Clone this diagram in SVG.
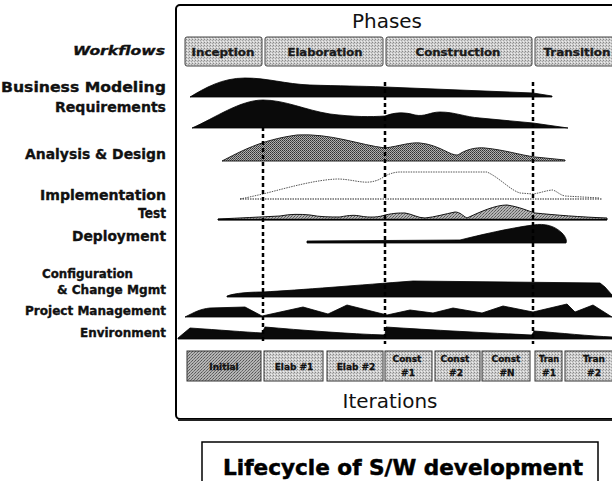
<svg xmlns="http://www.w3.org/2000/svg" width="612" height="481" viewBox="0 0 612 481">
<defs>
<pattern id="lite" width="3" height="3" patternUnits="userSpaceOnUse">
<rect width="3" height="3" fill="#cfcfcf"/><rect width="1" height="1" fill="#888"/><rect x="2" y="1" width="1" height="1" fill="#a4a4a4"/><rect x="1" y="2" width="1" height="1" fill="#eeeeee"/>
</pattern>
<pattern id="dark" width="3" height="3" patternUnits="userSpaceOnUse">
<rect width="3" height="3" fill="#b4b4b4"/><rect width="1" height="1" fill="#555"/><rect x="2" y="1" width="1" height="1" fill="#666"/><rect x="1" y="2" width="1" height="1" fill="#777"/>
</pattern>
<pattern id="mid" width="2" height="2" patternUnits="userSpaceOnUse">
<rect width="2" height="2" fill="#b0b0b0"/><rect width="1" height="1" fill="#303030"/><rect x="1" y="1" width="1" height="1" fill="#505050"/>
</pattern>
<style>
.lbl{font-family:"DejaVu Sans",Verdana,sans-serif;font-weight:bold;fill:#111;stroke:#111;stroke-width:0.35;text-anchor:end}
.ph{fill:url(#lite);stroke:#444;stroke-width:1}
.pht{font-family:"DejaVu Sans",Verdana,sans-serif;font-weight:bold;font-size:10px;fill:#1a1a1a;stroke:#1a1a1a;stroke-width:0.3;text-anchor:middle}
.it{fill:url(#lite);stroke:#333;stroke-width:1}
.itt{font-family:"DejaVu Sans",Verdana,sans-serif;font-weight:bold;font-size:9px;fill:#111;stroke:#111;stroke-width:0.3;text-anchor:middle}
.big{font-family:"DejaVu Sans",Verdana,sans-serif;font-size:20px;fill:#111;text-anchor:middle}
.blk{fill:#0a0a0a;stroke:#000;stroke-width:0.8}
.dash{stroke:#000;stroke-width:2.5;stroke-dasharray:4 3;fill:none}
</style>
</defs>
<rect width="612" height="481" fill="#fff"/>

<g id="frame">
<rect x="176" y="5" width="460" height="414" rx="4" fill="#fff" stroke="#000" stroke-width="2"/>
<line x1="178" y1="420" x2="612" y2="420" stroke="#222" stroke-width="2"/>
<text class="big" x="387" y="28" textLength="70" lengthAdjust="spacingAndGlyphs">Phases</text>
<text class="big" x="390" y="408" textLength="95" lengthAdjust="spacingAndGlyphs">Iterations</text>
</g>

<g id="phases">
<g id="ph-inception"><rect class="ph" x="185" y="37" width="77" height="29" rx="2"/><text class="pht" x="223" y="56" textLength="63" lengthAdjust="spacingAndGlyphs">Inception</text></g>
<g id="ph-elaboration"><rect class="ph" x="265" y="37" width="118" height="29" rx="2"/><text class="pht" x="325" y="56" textLength="75" lengthAdjust="spacingAndGlyphs">Elaboration</text></g>
<g id="ph-construction"><rect class="ph" x="386" y="37" width="146" height="29" rx="2"/><text class="pht" x="458" y="56" textLength="85" lengthAdjust="spacingAndGlyphs">Construction</text></g>
<g id="ph-transition"><rect class="ph" x="535" y="37" width="82" height="29" rx="2"/><text class="pht" x="577" y="56" textLength="67" lengthAdjust="spacingAndGlyphs">Transition</text></g>
</g>

<g id="labels">
<text class="lbl" x="165" y="55" font-size="12.5" font-style="italic" textLength="92" lengthAdjust="spacingAndGlyphs">Workflows</text>
<text class="lbl" x="166" y="92" font-size="14.5" textLength="165" lengthAdjust="spacingAndGlyphs">Business Modeling</text>
<text class="lbl" x="166" y="112" font-size="14.5" textLength="111" lengthAdjust="spacingAndGlyphs">Requirements</text>
<text class="lbl" x="166" y="159" font-size="14.5" textLength="141" lengthAdjust="spacingAndGlyphs">Analysis &amp; Design</text>
<text class="lbl" x="166" y="200" font-size="14.5" textLength="126" lengthAdjust="spacingAndGlyphs">Implementation</text>
<text class="lbl" x="166" y="218" font-size="14.5" textLength="28" lengthAdjust="spacingAndGlyphs">Test</text>
<text class="lbl" x="166" y="241" font-size="14.5" textLength="94" lengthAdjust="spacingAndGlyphs">Deployment</text>
<text class="lbl" x="133" y="278" font-size="12" textLength="91" lengthAdjust="spacingAndGlyphs">Configuration</text>
<text class="lbl" x="166" y="294" font-size="12" textLength="109" lengthAdjust="spacingAndGlyphs">&amp; Change Mgmt</text>
<text class="lbl" x="166" y="315" font-size="12" textLength="141" lengthAdjust="spacingAndGlyphs">Project Management</text>
<text class="lbl" x="166" y="337" font-size="12" textLength="86" lengthAdjust="spacingAndGlyphs">Environment</text>
</g>

<g id="workflows">
<path id="wf-business" class="blk" d="M190,97 C205,88 222,78 245,78 C268,78 285,84 310,85 C340,86 360,86 385,87 L533,93 L552,96 L552,97 Z"/>
<path id="wf-requirements" class="blk" d="M192,128 C215,118 240,100 263,100 C285,100 305,110 330,114 C355,117 370,117 385,116 C395,112 405,112 415,115 C425,117 430,112 440,112 C455,112 465,117 480,118 L533,123 L568,128 Z"/>
<path id="wf-analysis" fill="url(#mid)" stroke="#222" stroke-width="1" d="M222,161 C240,152 260,140 297,135 C330,133 360,145 385,148 C400,146 410,142 420,143 C440,145 450,156 458,155 C465,150 475,147 485,148 C505,150 520,155 535,157 L565,160 L565,161 Z"/>
<path id="wf-implementation" fill="none" stroke="#555" stroke-width="1" stroke-dasharray="1.5 1" d="M240,199 C250,197 258,195 263,194 C290,187 315,180 337,179 C350,179 360,183 370,182 C378,181 382,178 387,175 C392,173 396,172 400,172 L487,172 C500,178 510,190 520,193 L533,194 C540,193 548,190 553,190 C558,192 560,195 565,196 L600,198"/>
<line x1="240" y1="199" x2="602" y2="199" stroke="#222" stroke-width="1.2" stroke-dasharray="1.5 1"/>
<path id="wf-test" fill="url(#dark)" stroke="#111" stroke-width="1" d="M218,219 C240,218 260,217 280,216 C290,214 300,214 310,215 C320,217 330,217 340,217 C350,215 355,215 360,216 C370,218 380,217 385,215 C395,213 398,213 405,213 C412,214 418,218 425,218 C435,217 445,214 455,212 C460,212 463,216 467,218 C480,212 495,205 507,205 C520,207 528,211 535,213 C555,215 580,217 607,218 L607,220 L218,220 Z"/>
<line x1="218" y1="219.5" x2="607" y2="219.5" stroke="#000" stroke-width="1.5"/>
<path id="wf-deployment" class="blk" d="M307,241 L460,240 C480,235 510,228 533,225 C545,223 555,226 562,233 C566,237 567,241 566,243 L307,243 Z"/>
<path id="wf-config" class="blk" d="M227,296 C235,293 250,292 263,292 C300,290 360,285 413,281 L600,283 L605,287 L612,295 L612,297 L227,297 Z"/>
<path id="wf-pm" class="blk" d="M185,317 C195,312 200,309 210,308 L245,307 L262,316 L303,307 L328,314 L347,305 L387,315 L410,310 L433,313 L453,308 L482,313 L503,306 L533,312 L567,304 L575,312 L593,305 L612,317 Z"/>
<path id="wf-env" class="blk" d="M178,338 L190,328 C220,330 245,332 262,333 L265,327 C300,330 350,334 385,335 L386,327 C430,330 490,333 532,335 L534,331 C560,333 590,336 612,337 L612,339 L178,339 Z"/>
</g>

<g id="connectors">
<line class="dash" x1="263" y1="127" x2="263" y2="344"/>
<line class="dash" x1="385" y1="82" x2="385" y2="344"/>
<line class="dash" x1="533" y1="82" x2="533" y2="344"/>
</g>

<g id="iterations">
<g id="it-initial"><rect x="187" y="351" width="74" height="30" fill="url(#dark)" stroke="#333"/><text class="itt" x="224" y="370">Initial</text></g>
<g id="it-elab1"><rect class="it" x="264" y="351" width="59" height="30"/><text class="itt" x="294" y="370">Elab #1</text></g>
<g id="it-elab2"><rect class="it" x="327" y="351" width="56" height="30"/><text class="itt" x="356" y="370">Elab #2</text></g>
<g id="it-const1"><rect class="it" x="385" y="351" width="47" height="30"/><text class="itt" x="407" y="362">Const</text><text class="itt" x="408" y="376">#1</text></g>
<g id="it-const2"><rect class="it" x="435" y="351" width="45" height="30"/><text class="itt" x="455" y="362">Const</text><text class="itt" x="456" y="376">#2</text></g>
<g id="it-constN"><rect class="it" x="482" y="351" width="48" height="30"/><text class="itt" x="506" y="362">Const</text><text class="itt" x="507" y="376">#N</text></g>
<g id="it-tran1"><rect class="it" x="535" y="351" width="27" height="30"/><text class="itt" x="549" y="362" textLength="20" lengthAdjust="spacingAndGlyphs">Tran</text><text class="itt" x="549" y="376">#1</text></g>
<g id="it-tran2"><rect class="it" x="565" y="351" width="50" height="30"/><text class="itt" x="594" y="362">Tran</text><text class="itt" x="594" y="376">#2</text></g>
</g>

<g id="title">
<rect x="202" y="442" width="396" height="50" fill="#fff" stroke="#000" stroke-width="1.5"/>
<text x="403" y="475" font-family="'DejaVu Sans',Verdana,sans-serif" font-weight="bold" font-size="22" fill="#000" stroke="#000" stroke-width="0.5" text-anchor="middle" textLength="360" lengthAdjust="spacingAndGlyphs">Lifecycle of S/W development</text>
</g>
</svg>
